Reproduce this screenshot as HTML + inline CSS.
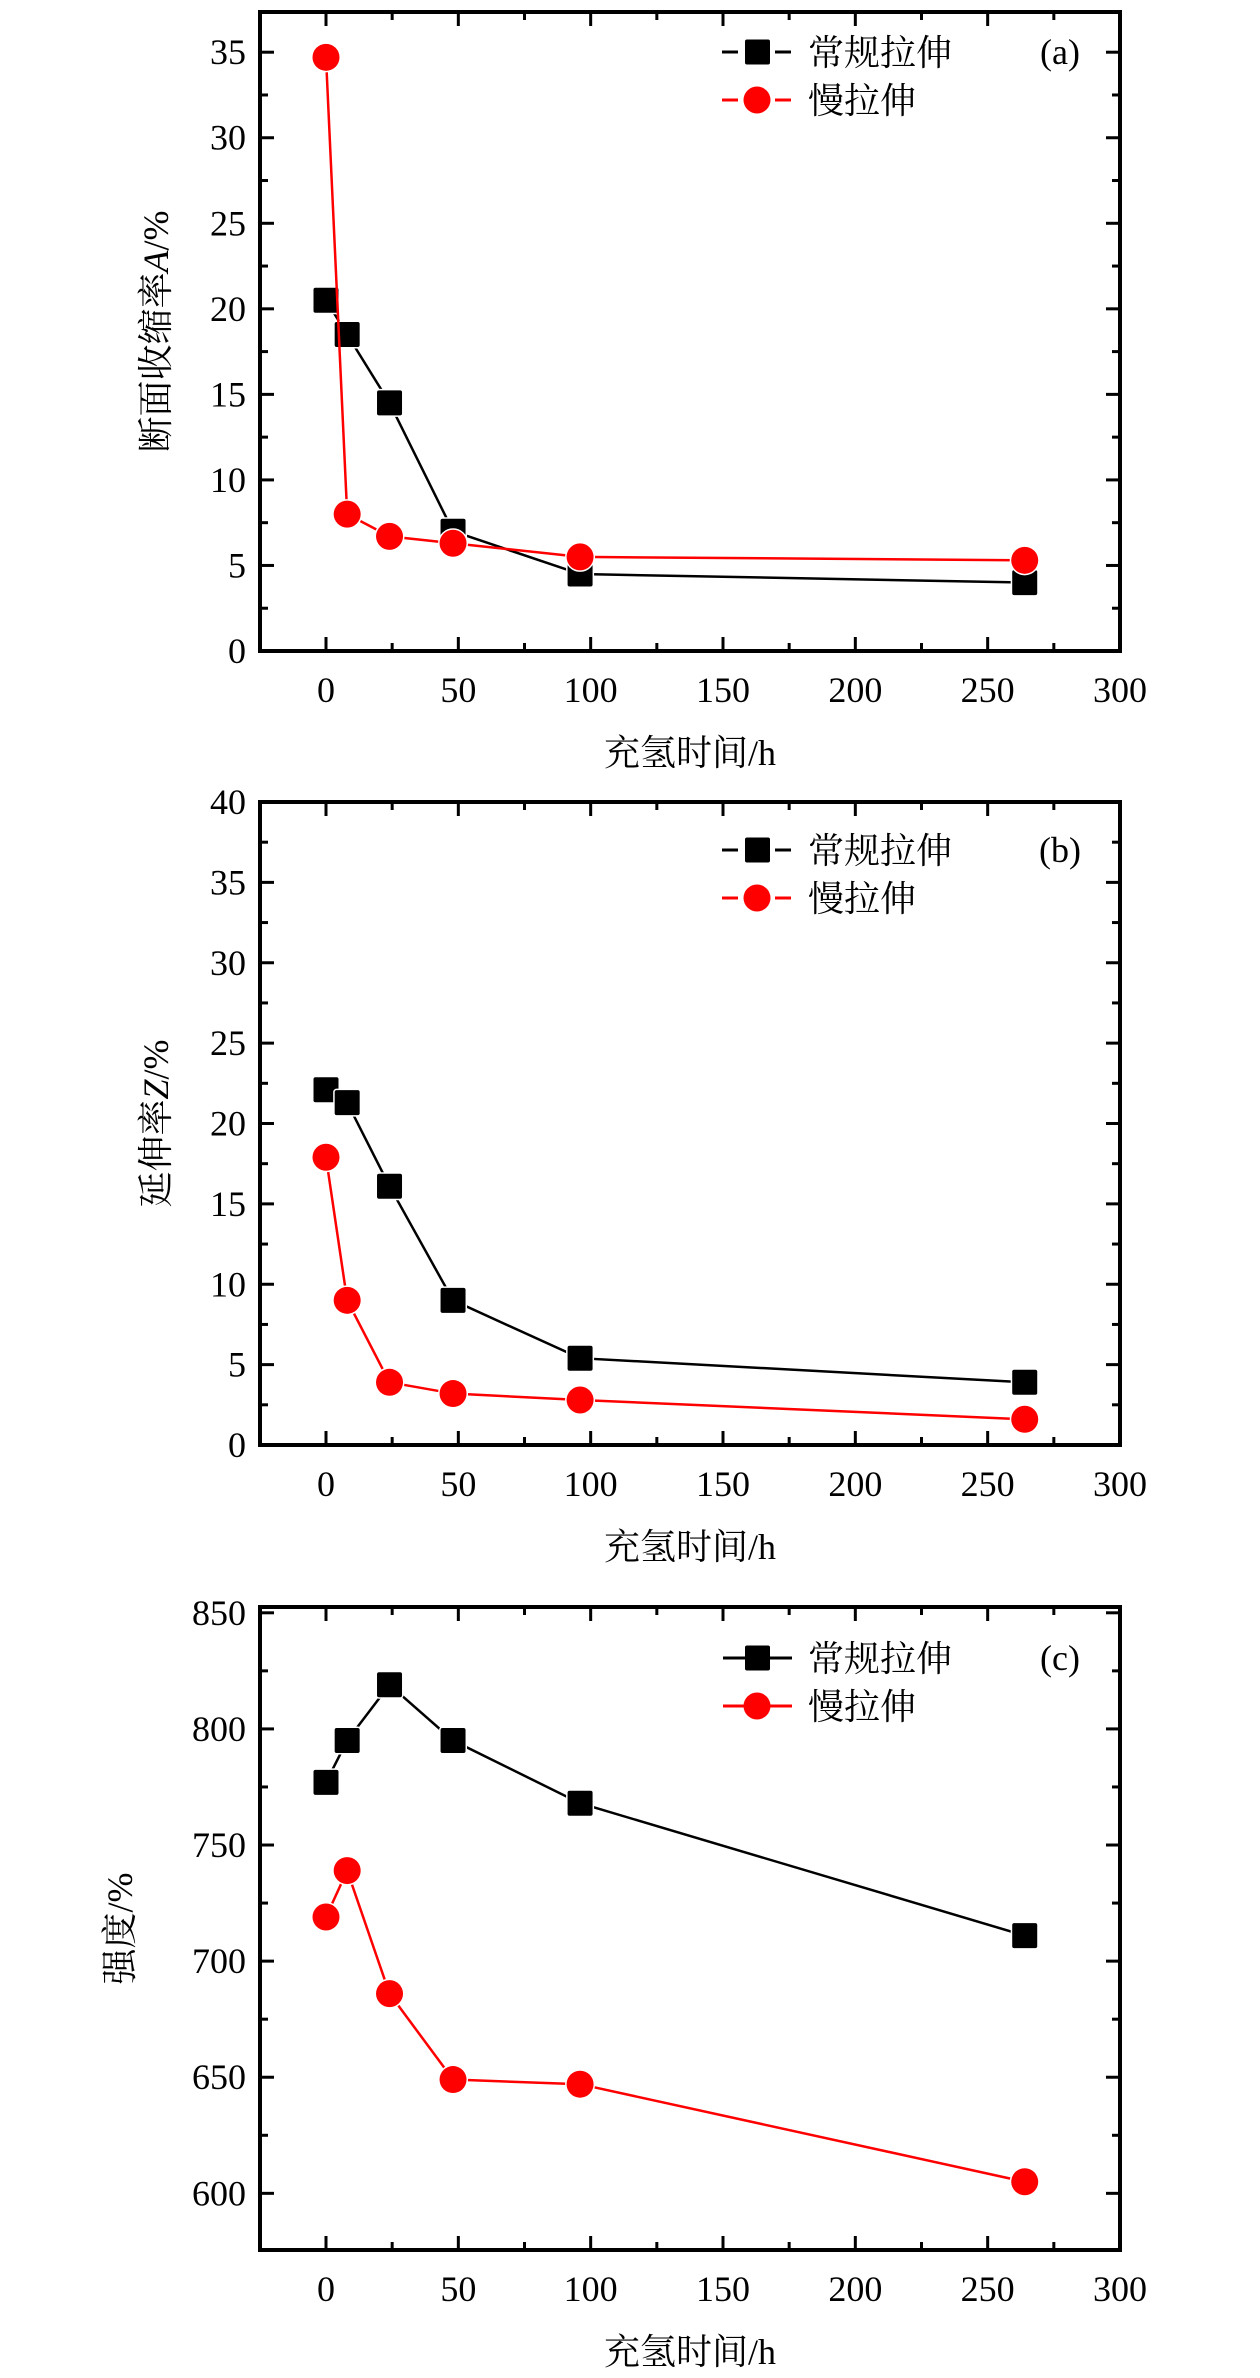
<!DOCTYPE html>
<html><head><meta charset="utf-8"><style>
html,body{margin:0;padding:0;background:#fff;}
svg{display:block;}
text{font-family:"Liberation Serif","Noto Serif CJK SC","Noto Sans CJK SC",serif;fill:#000;}
</style></head><body>
<svg id="fig" width="1260" height="2378" viewBox="0 0 1260 2378" xmlns="http://www.w3.org/2000/svg"></svg>
<script>
const hours = [0, 8, 24, 48, 96, 264];
const xTicks = [0, 50, 100, 150, 200, 250, 300];
const aConventional = [20.5, 18.5, 14.5, 7.0, 4.5, 4.0];
const aSlow = [34.7, 8.0, 6.7, 6.3, 5.5, 5.3];
const aTicks = [0, 5, 10, 15, 20, 25, 30, 35];
const bConventional = [22.1, 21.3, 16.1, 9.0, 5.4, 3.9];
const bSlow = [17.9, 9.0, 3.9, 3.2, 2.8, 1.6];
const bTicks = [0, 5, 10, 15, 20, 25, 30, 35, 40];
const cConventional = [777, 795, 819, 795, 768, 711];
const cSlow = [719, 739, 686, 649, 647, 605];
const cTicks = [600, 650, 700, 750, 800, 850];
const seriesNames = ["常规拉伸", "慢拉伸"];

const NS = "http://www.w3.org/2000/svg";
const svg = document.getElementById("fig");
function mk(tag, attrs, parent) {
  const e = document.createElementNS(NS, tag);
  for (const k in attrs) e.setAttribute(k, attrs[k]);
  (parent || svg).appendChild(e);
  return e;
}

function panel(p) {
  const g = mk("g", {});
  
  
  const L = 260, R = 1120, T = p.top, B = p.bottom;
  const xs = v => 326 + (v - 0) * (1120 - 326) / 300;
  const ys = v => B - (v - p.ymin) * (B - T) / (p.ymax - p.ymin);
  const frame = mk("rect", {x: L, y: T, width: R - L, height: B - T, fill: "none", stroke: "#000", "stroke-width": 4}, g);
  
  
  for (let i = 0; i < xTicks.length; i++) {
    const v = xTicks[i], x = xs(v);
    mk("line", {x1: x, y1: B, x2: x, y2: B - 14, stroke: "#000", "stroke-width": 3}, g);
    mk("line", {x1: x, y1: T, x2: x, y2: T + 14, stroke: "#000", "stroke-width": 3}, g);
    if (v + 25 < 300) {
      const xm = xs(v + 25);
      mk("line", {x1: xm, y1: B, x2: xm, y2: B - 8, stroke: "#000", "stroke-width": 3}, g);
      mk("line", {x1: xm, y1: T, x2: xm, y2: T + 8, stroke: "#000", "stroke-width": 3}, g);
    }
    const t = mk("text", {x: x, y: B + 51, "font-size": 36, "text-anchor": "middle"}, g);
    t.textContent = v;
    
    
  }
  const yt = p.yTicks;
  for (let i = 0; i < yt.length; i++) {
    const v = yt[i], y = ys(v);
    mk("line", {x1: L, y1: y, x2: L + 14, y2: y, stroke: "#000", "stroke-width": 3}, g);
    mk("line", {x1: R, y1: y, x2: R - 14, y2: y, stroke: "#000", "stroke-width": 3}, g);
    const half = (yt[1] - yt[0]) / 2;
    [v - half, v + half].forEach(m => {
      if (m > p.ymin && m < p.ymax && !(i > 0 && m === v - half)) {
        const ym = ys(m);
        mk("line", {x1: L, y1: ym, x2: L + 8, y2: ym, stroke: "#000", "stroke-width": 3}, g);
        mk("line", {x1: R, y1: ym, x2: R - 8, y2: ym, stroke: "#000", "stroke-width": 3}, g);
      }
    });
    const t = mk("text", {x: 246, y: y + 12, "font-size": 36, "text-anchor": "end"}, g);
    t.textContent = v;
    
    
  }
  const xt = mk("text", {x: 690, y: B + 114, "font-size": 36, "text-anchor": "middle"}, g);
  xt.textContent = "充氢时间/h";
  
  
  const cy = (T + B) / 2;
  const ytl = mk("text", {x: 0, y: 0, "font-size": 36, "text-anchor": "middle", transform: `translate(${p.ylabelX},${cy}) rotate(-90)`}, g);
  ytl.innerHTML = p.ylabel;
  
  
  const cols = ["#000", "#f00"];
  [p.conv, p.slow].forEach((vals, si) => {
    const pts = hours.map((h, i) => xs(h) + "," + ys(vals[i])).join(" ");
    const ln = mk("polyline", {points: pts, fill: "none", stroke: cols[si], "stroke-width": 2.5}, g);
    
    
    hours.forEach((h, i) => {
      let m;
      if (si === 0) m = mk("rect", {x: xs(h) - 12.5, y: ys(vals[i]) - 12.5, width: 25, height: 25, rx: 2, fill: "#000", stroke: "#fff", "stroke-width": 3, "paint-order": "stroke"}, g);
      else m = mk("circle", {cx: xs(h), cy: ys(vals[i]), r: 13.5, fill: "#f00", stroke: "#fff", "stroke-width": 3, "paint-order": "stroke"}, g);
      
      
    });
  });
  const lg = mk("g", {}, g);
  
  
  [0, 1].forEach(si => {
    const ly = p.legY + si * 48;
    const e = mk("g", {}, lg);
    
    
    if (p.dashed) {
      mk("line", {x1: 722, y1: ly, x2: 738, y2: ly, stroke: cols[si], "stroke-width": 3}, e);
      mk("line", {x1: 775, y1: ly, x2: 791, y2: ly, stroke: cols[si], "stroke-width": 3}, e);
    } else {
      mk("line", {x1: 723, y1: ly, x2: 792, y2: ly, stroke: cols[si], "stroke-width": 3}, e);
    }
    if (si === 0) mk("rect", {x: 745, y: ly - 12.5, width: 25, height: 25, rx: 2, fill: "#000"}, e);
    else mk("circle", {cx: 757, cy: ly, r: 13.5, fill: "#f00"}, e);
    const t = mk("text", {x: 808, y: ly + 13, "font-size": 36}, e);
    t.textContent = seriesNames[si];
  });
  const pl = mk("text", {x: 1060, y: p.legY + 12, "font-size": 36, "text-anchor": "middle"}, g);
  pl.textContent = p.label;
  
  
}

panel({name: "panel-a", top: 12, bottom: 651, ymin: 0, ymax: 37.35, yTicks: aTicks,
  conv: aConventional, slow: aSlow, ylabel: '断面收缩率<tspan font-style="italic">A</tspan>/%', ylabelX: 168,
  legY: 52, dashed: true, label: "(a)"});
panel({name: "panel-b", top: 802, bottom: 1445, ymin: 0, ymax: 40, yTicks: bTicks,
  conv: bConventional, slow: bSlow, ylabel: '延伸率<tspan font-style="italic">Z</tspan>/%', ylabelX: 168,
  legY: 850, dashed: true, label: "(b)"});
panel({name: "panel-c", top: 1607, bottom: 2250, ymin: 575.6, ymax: 852.5, yTicks: cTicks,
  conv: cConventional, slow: cSlow, ylabel: '强度/%', ylabelX: 132,
  legY: 1658, dashed: false, label: "(c)"});
</script>
</body></html>
